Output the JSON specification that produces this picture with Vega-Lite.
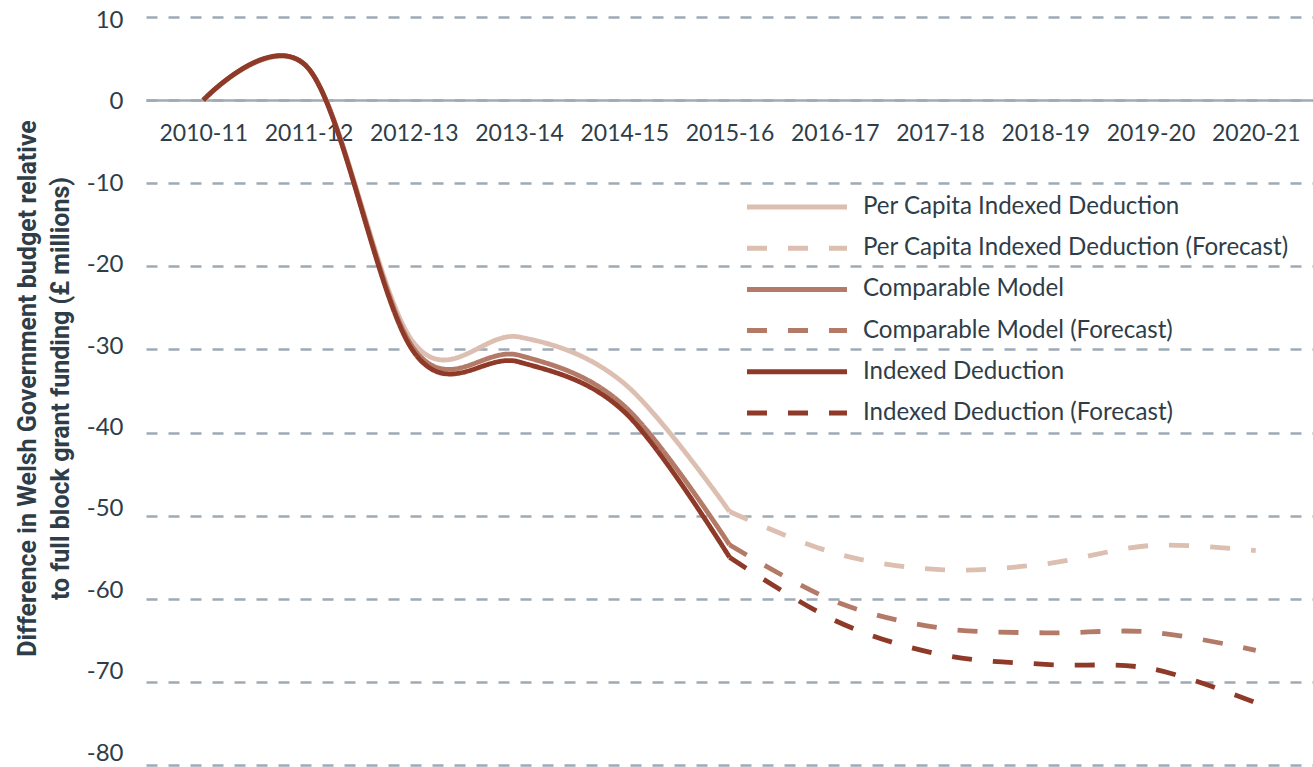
{
  "$schema": "https://vega.github.io/schema/vega-lite/v6.json",
  "width": 1167,
  "height": 748,
  "autosize": {"type": "none"},
  "padding": {"left": 146, "top": 17, "right": 0, "bottom": 2},
  "background": "white",
  "config": {"view": {"stroke": null}},
  "data": {
    "values": [
      {"year": "2010-11", "series": "Per Capita Indexed Deduction", "value": 0},
      {"year": "2011-12", "series": "Per Capita Indexed Deduction", "value": 3.8},
      {"year": "2012-13", "series": "Per Capita Indexed Deduction", "value": -29.2},
      {"year": "2013-14", "series": "Per Capita Indexed Deduction", "value": -28.5},
      {"year": "2014-15", "series": "Per Capita Indexed Deduction", "value": -34.1},
      {"year": "2015-16", "series": "Per Capita Indexed Deduction", "value": -49.5},
      {"year": "2015-16", "series": "Per Capita Indexed Deduction (Forecast)", "value": -49.5},
      {"year": "2016-17", "series": "Per Capita Indexed Deduction (Forecast)", "value": -54.5},
      {"year": "2017-18", "series": "Per Capita Indexed Deduction (Forecast)", "value": -56.5},
      {"year": "2018-19", "series": "Per Capita Indexed Deduction (Forecast)", "value": -55.8},
      {"year": "2019-20", "series": "Per Capita Indexed Deduction (Forecast)", "value": -53.6},
      {"year": "2020-21", "series": "Per Capita Indexed Deduction (Forecast)", "value": -54.2},
      {"year": "2010-11", "series": "Comparable Model", "value": 0},
      {"year": "2011-12", "series": "Comparable Model", "value": 3.8},
      {"year": "2012-13", "series": "Comparable Model", "value": -29.9},
      {"year": "2013-14", "series": "Comparable Model", "value": -30.7},
      {"year": "2014-15", "series": "Comparable Model", "value": -36.8},
      {"year": "2015-16", "series": "Comparable Model", "value": -53.5},
      {"year": "2015-16", "series": "Comparable Model (Forecast)", "value": -53.5},
      {"year": "2016-17", "series": "Comparable Model (Forecast)", "value": -60.3},
      {"year": "2017-18", "series": "Comparable Model (Forecast)", "value": -63.5},
      {"year": "2018-19", "series": "Comparable Model (Forecast)", "value": -64.1},
      {"year": "2019-20", "series": "Comparable Model (Forecast)", "value": -64.0},
      {"year": "2020-21", "series": "Comparable Model (Forecast)", "value": -66.2},
      {"year": "2010-11", "series": "Indexed Deduction", "value": 0},
      {"year": "2011-12", "series": "Indexed Deduction", "value": 3.8},
      {"year": "2012-13", "series": "Indexed Deduction", "value": -30.3},
      {"year": "2013-14", "series": "Indexed Deduction", "value": -31.5},
      {"year": "2014-15", "series": "Indexed Deduction", "value": -37.5},
      {"year": "2015-16", "series": "Indexed Deduction", "value": -55.0},
      {"year": "2015-16", "series": "Indexed Deduction (Forecast)", "value": -55.0},
      {"year": "2016-17", "series": "Indexed Deduction (Forecast)", "value": -62.6},
      {"year": "2017-18", "series": "Indexed Deduction (Forecast)", "value": -66.7},
      {"year": "2018-19", "series": "Indexed Deduction (Forecast)", "value": -67.9},
      {"year": "2019-20", "series": "Indexed Deduction (Forecast)", "value": -68.4},
      {"year": "2020-21", "series": "Indexed Deduction (Forecast)", "value": -72.5}
    ]
  },
  "mark": {"type": "line", "interpolate": "cardinal", "strokeWidth": 4.8, "strokeCap": "butt"},
  "encoding": {
    "x": {
      "field": "year",
      "type": "ordinal",
      "scale": {"type": "point", "padding": 0.544},
      "axis": {
        "orient": "bottom",
        "offset": -665,
        "title": null,
        "ticks": false,
        "tickSize": 0,
        "labelPadding": 33,
        "labelBaseline": "middle",
        "labelAngle": 0,
        "labelFont": "Lato",
        "labelFontSize": 23,
        "labelColor": "#2e3d48",
        "labelOverlap": false,
        "domainColor": "#9eabb5",
        "domainWidth": 2.5,
        "grid": false
      }
    },
    "y": {
      "field": "value",
      "type": "quantitative",
      "scale": {"domain": [-80, 10], "nice": false, "zero": false},
      "axis": {
        "title": ["Difference in Welsh Government budget relative", "to full block grant funding (£ millions)"],
        "values": [10, 0, -10, -20, -30, -40, -50, -60, -70, -80],
        "labelExpr": "'' + datum.value",
        "domain": false,
        "ticks": false,
        "tickSize": 0,
        "labelPadding": 23,
        "labelFont": "Lato",
        "labelFontSize": 24,
        "labelColor": "#2e3d48",
        "labelBaseline": "middle",
        "labelOffset": {
          "condition": [
            {"test": "datum.value === 10", "value": 3.5},
            {"test": "datum.value === 0", "value": 1.8},
            {"test": "datum.value === -10", "value": 0.1},
            {"test": "datum.value === -20", "value": -1.6},
            {"test": "datum.value === -30", "value": -3.3},
            {"test": "datum.value === -40", "value": -5.0},
            {"test": "datum.value === -50", "value": -6.7},
            {"test": "datum.value === -60", "value": -8.4},
            {"test": "datum.value === -70", "value": -10.1},
            {"test": "datum.value === -80", "value": -11.8}
          ],
          "value": 0
        },
        "grid": true,
        "gridDash": [11, 11],
        "gridColor": "#9eabb5",
        "gridWidth": 2.5,
        "titleFont": "Roboto",
        "titleFontWeight": "bold",
        "titleFontSize": 25,
        "titleColor": "#2e3d48",
        "titleLineHeight": 33,
        "titleX": -118.5,
        "titleY": 371,
        "titleAngle": -90,
        "titleAlign": "center",
        "titleBaseline": "middle"
      }
    },
    "color": {
      "field": "series",
      "type": "nominal",
      "scale": {
        "domain": ["Per Capita Indexed Deduction", "Per Capita Indexed Deduction (Forecast)", "Comparable Model", "Comparable Model (Forecast)", "Indexed Deduction", "Indexed Deduction (Forecast)"],
        "range": ["#dcbfb0", "#dcbfb0", "#b47a68", "#b47a68", "#8f3928", "#8f3928"]
      },
      "legend": {
        "title": null,
        "orient": "none",
        "legendX": 598.5,
        "legendY": 178,
        "padding": 0,
        "symbolType": "stroke",
        "symbolSize": 10000,
        "symbolStrokeWidth": 5,
        "symbolOffset": 0,
        "labelOffset": 13.5,
        "labelFont": "Lato",
        "labelFontSize": 24.1,
        "labelColor": "#2e3d48",
        "labelLimit": 600,
        "labelBaseline": "middle",
        "clipHeight": 24,
        "rowPadding": 16.2
      }
    },
    "strokeDash": {
      "field": "series",
      "type": "nominal",
      "scale": {
        "domain": ["Per Capita Indexed Deduction", "Per Capita Indexed Deduction (Forecast)", "Comparable Model", "Comparable Model (Forecast)", "Indexed Deduction", "Indexed Deduction (Forecast)"],
        "range": [[1, 0], [20, 21], [1, 0], [20, 21], [1, 0], [20, 21]]
      },
      "legend": {
        "title": null,
        "orient": "none",
        "legendX": 598.5,
        "legendY": 178,
        "padding": 0,
        "symbolType": "stroke",
        "symbolSize": 10000,
        "symbolStrokeWidth": 5,
        "symbolOffset": 0,
        "labelOffset": 13.5,
        "labelFont": "Lato",
        "labelFontSize": 24.1,
        "labelColor": "#2e3d48",
        "labelLimit": 600,
        "labelBaseline": "middle",
        "clipHeight": 24,
        "rowPadding": 16.2
      }
    }
  }
}
